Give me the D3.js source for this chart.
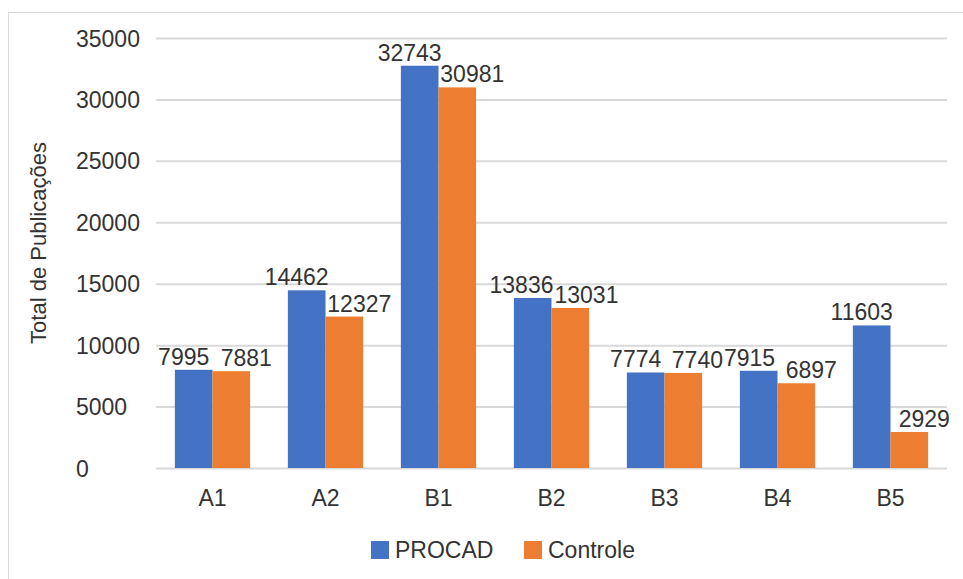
<!DOCTYPE html>
<html>
<head>
<meta charset="utf-8">
<script src="https://cdn.jsdelivr.net/npm/d3@7"></script>
<style>
  html, body { margin: 0; padding: 0; background: #fff; }
  svg { display: block; }
  text { font-family: "Liberation Sans", Arial, sans-serif; fill: #333; }
</style>
</head>
<body>
<svg id="chart" width="963" height="579"></svg>
<script>
const categories = ["A1", "A2", "B1", "B2", "B3", "B4", "B5"];
const seriesNames = ["PROCAD", "Controle"];
const procad = [7995, 14462, 32743, 13836, 7774, 7915, 11603];
const controle = [7881, 12327, 30981, 13031, 7740, 6897, 2929];
const yTicks = [0, 5000, 10000, 15000, 20000, 25000, 30000, 35000];
const yTitle = "Total de Publicações";

const colors = {PROCAD: "#4472C4", Controle: "#ED7D31"};
const seriesValues = {PROCAD: procad, Controle: controle};

const svg = d3.select("#chart");
const W = 963, H = 579;

// outer frame
svg.append("rect").attr("x", 8.5).attr("y", 12.5).attr("width", W).attr("height", H)
  .attr("fill", "none").attr("stroke", "#d9d9d9").attr("stroke-width", 1);

const plot = {left: 156, right: 947, top: 38, bottom: 468};

const y = d3.scaleLinear().domain([0, 35000]).range([plot.bottom, plot.top]);
const x0 = d3.scaleBand().domain(categories).range([plot.left, plot.right]).padding(0);
const x1 = d3.scaleBand().domain(seriesNames)
  .range([x0.bandwidth() * 0.167, x0.bandwidth() * 0.833]).padding(0);

// gridlines
const yAxis = d3.axisLeft(y).tickValues(yTicks).tickSize(-(plot.right - plot.left)).tickFormat(d => d);
const gy = svg.append("g").attr("transform", `translate(${plot.left},0)`).call(yAxis);
gy.select(".domain").remove();
gy.selectAll(".tick line").attr("stroke", "#d9d9d9").attr("stroke-width", 2);
gy.selectAll(".tick text")
  .attr("x", 76 - plot.left).attr("text-anchor", "start")
  .attr("dy", "0.35em")
  .style("font-size", "23px").attr("fill", "#333");

// bars
const groups = svg.append("g").selectAll("g").data(categories).join("g")
  .attr("transform", d => `translate(${x0(d)},0)`);

groups.selectAll("rect")
  .data((c, i) => seriesNames.map(s => ({s, v: seriesValues[s][i]})))
  .join("rect")
  .attr("x", d => x1(d.s))
  .attr("width", x1.bandwidth())
  .attr("y", d => y(d.v))
  .attr("height", d => y(0) - y(d.v))
  .attr("fill", d => colors[d.s]);

// value labels (nudged apart from each other)
const labelShift = {PROCAD: -10, Controle: 15};
const labelLayer = svg.append("g");
const labels = [];
categories.forEach((c, i) => {
  seriesNames.forEach(s => {
    const v = seriesValues[s][i];
    const cx = x0(c) + x1(s) + x1.bandwidth() / 2 + labelShift[s];
    const t = labelLayer.append("text")
      .attr("text-anchor", "middle")
      .attr("y", y(v) - 5)
      .style("font-size", "23px")
      .text(v);
    const w = t.node().getComputedTextLength();
    labels.push({t, cx, w, yb: y(v) - 5});
  });
});
for (let k = 1; k < labels.length; k++) {
  const a = labels[k - 1], b = labels[k];
  if (Math.abs(a.yb - b.yb) < 20) {
    const gap = (b.cx - b.w / 2) - (a.cx + a.w / 2);
    if (gap < 1) {
      const push = (1 - gap) / 2;
      a.cx -= push; b.cx += push;
    }
  }
}
labels.forEach(l => l.t.attr("x", l.cx));

// x axis labels
const xAxis = d3.axisBottom(x0).tickSize(0).tickPadding(0);
const gx = svg.append("g").attr("transform", `translate(0,${plot.bottom})`).call(xAxis);
gx.select(".domain").remove();
gx.selectAll(".tick text").attr("y", 30).attr("dy", "0.35em").style("font-size", "23px").attr("fill", "#333");

// y title
svg.append("text")
  .attr("transform", `translate(46,${243}) rotate(-90)`)
  .attr("text-anchor", "middle")
  .style("font-size", "22px")
  .text(yTitle);

// legend
const legendItems = [{s: "PROCAD", x: 371}, {s: "Controle", x: 524}];
const lg = svg.append("g").selectAll("g").data(legendItems).join("g")
  .attr("transform", d => `translate(${d.x},541)`);
lg.append("rect").attr("width", 18).attr("height", 18).attr("fill", d => colors[d.s]);
lg.append("text").attr("x", 24).attr("y", 9).attr("dy", "0.35em")
  .style("font-size", "23px").text(d => d.s);
</script>
</body>
</html>
